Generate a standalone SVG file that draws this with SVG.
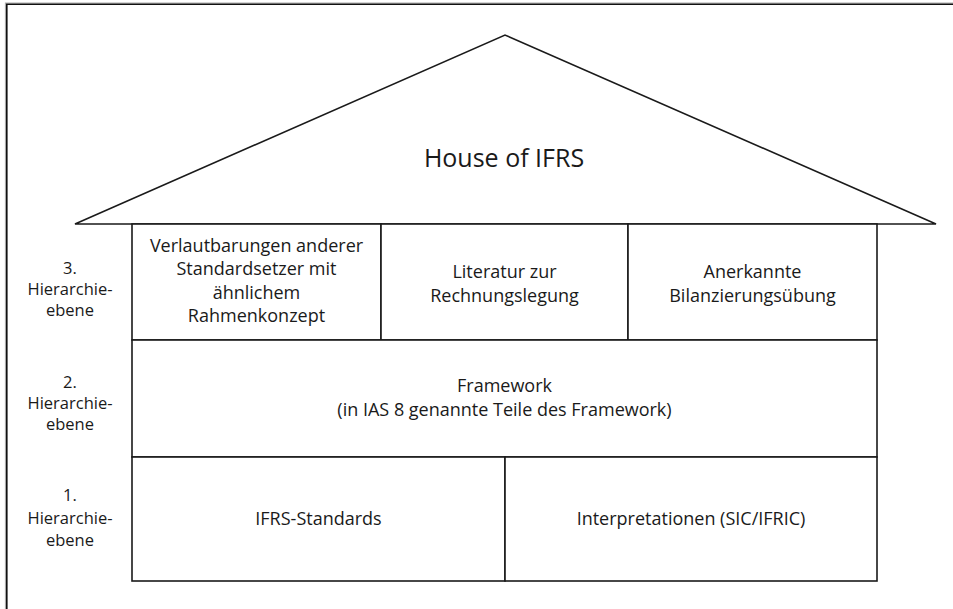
<svg xmlns="http://www.w3.org/2000/svg" width="953" height="609" viewBox="0 0 953 609">
<style>
  .ln{fill:none;stroke:#1a1a1a;stroke-width:1.6}
  .bx{fill:#fff;stroke:#1a1a1a;stroke-width:1.6}
  text{font-family:"Open Sans","Noto Sans","Liberation Sans",sans-serif;fill:#1a1a1a;text-anchor:middle}
  .t{font-size:18px}
  .lv{font-size:16.5px}
  .h{font-size:25px}
</style>
<rect width="953" height="609" fill="#fff"/>
<g id="frame">
  <path d="M5.5,609 V3 H953" fill="none" stroke="#aaa" stroke-width="1.2"/>
  <path d="M6.8,609 V4.3 H953" fill="none" stroke="#111" stroke-width="1.6"/>
</g>
<g id="roof">
  <polygon class="bx" points="75,224 505,35 936,224"/>
  <text class="h" x="504" y="167">House of IFRS</text>
</g>
<g id="level3">
  <g id="verlautbarungen">
    <rect class="bx" x="132" y="224" width="249" height="116"/>
    <text class="t" x="256.5" y="252">Verlautbarungen anderer</text>
    <text class="t" x="256.5" y="275">Standardsetzer mit</text>
    <text class="t" x="256.5" y="299">ähnlichem</text>
    <text class="t" x="256.5" y="322">Rahmenkonzept</text>
  </g>
  <g id="literatur">
    <rect class="bx" x="381" y="224" width="247" height="116"/>
    <text class="t" x="504.5" y="278">Literatur zur</text>
    <text class="t" x="504.5" y="302">Rechnungslegung</text>
  </g>
  <g id="bilanzierung">
    <rect class="bx" x="628" y="224" width="249" height="116"/>
    <text class="t" x="752.5" y="278">Anerkannte</text>
    <text class="t" x="752.5" y="302">Bilanzierungsübung</text>
  </g>
</g>
<g id="level2">
  <g id="framework">
    <rect class="bx" x="132" y="340" width="745" height="117"/>
    <text class="t" x="504.5" y="392">Framework</text>
    <text class="t" x="504.5" y="416">(in IAS 8 genannte Teile des Framework)</text>
  </g>
</g>
<g id="level1">
  <g id="ifrs-standards">
    <rect class="bx" x="132" y="457" width="373" height="124"/>
    <text class="t" x="318.5" y="525">IFRS-Standards</text>
  </g>
  <g id="interpretationen">
    <rect class="bx" x="505" y="457" width="372" height="124"/>
    <text class="t" x="691" y="525">Interpretationen (SIC/IFRIC)</text>
  </g>
</g>
<g id="labels">
  <g id="label3">
    <text class="lv" x="70" y="274">3.</text>
    <text class="lv" x="70" y="295">Hierarchie-</text>
    <text class="lv" x="70" y="316">ebene</text>
  </g>
  <g id="label2">
    <text class="lv" x="70" y="388">2.</text>
    <text class="lv" x="70" y="409">Hierarchie-</text>
    <text class="lv" x="70" y="430">ebene</text>
  </g>
  <g id="label1">
    <text class="lv" x="70" y="501">1.</text>
    <text class="lv" x="70" y="524">Hierarchie-</text>
    <text class="lv" x="70" y="546">ebene</text>
  </g>
</g>
<g id="connectors"/>
</svg>
